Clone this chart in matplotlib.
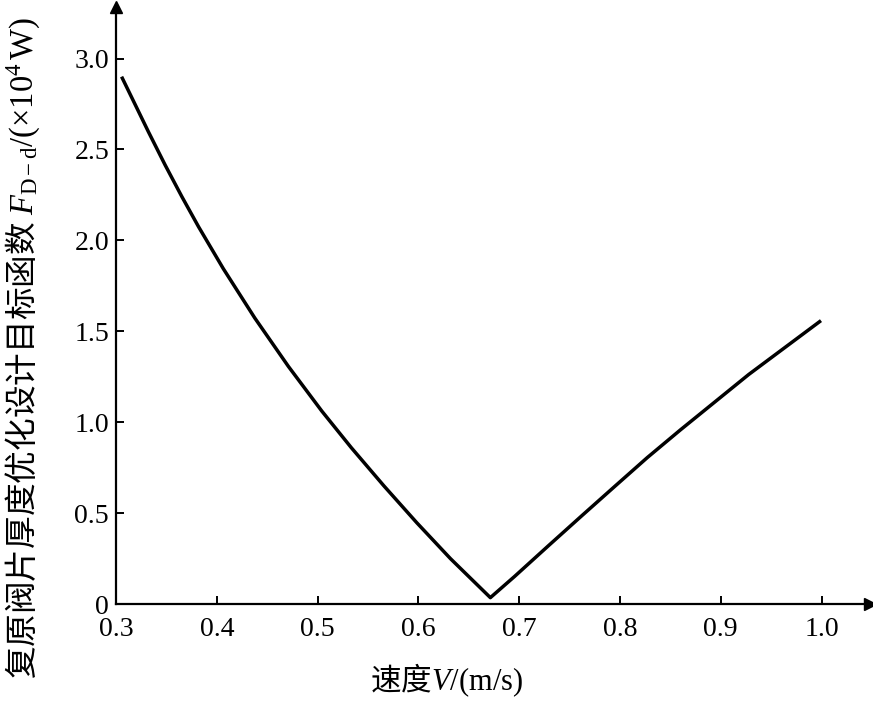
import matplotlib
matplotlib.use("Agg")
import matplotlib.pyplot as plt

plt.rcParams['mathtext.fontset'] = 'custom'
plt.rcParams['mathtext.rm'] = 'Liberation Serif'
plt.rcParams['mathtext.it'] = 'Liberation Serif:italic'
plt.rcParams['mathtext.bf'] = 'Liberation Serif:bold'

# data
velocity = [0.3063, 0.3321, 0.3488, 0.3654, 0.3819, 0.4065, 0.4377, 0.4710,
            0.5042, 0.5334, 0.5659, 0.5984, 0.6319, 0.6714,
            0.6955, 0.7285, 0.762, 0.794, 0.827, 0.860, 0.9276, 0.998]
objective = [2.892, 2.598, 2.414, 2.240, 2.075, 1.844, 1.573, 1.307,
             1.061, 0.860, 0.649, 0.447, 0.249, 0.035,
             0.152, 0.318, 0.485, 0.643, 0.805, 0.958, 1.262, 1.553]
x_ticks = [0.3, 0.4, 0.5, 0.6, 0.7, 0.8, 0.9, 1.0]
x_tick_labels = ['0.3', '0.4', '0.5', '0.6', '0.7', '0.8', '0.9', '1.0']
y_ticks = [0, 0.5, 1.0, 1.5, 2.0, 2.5, 3.0]
y_tick_labels = ['0', '0.5', '1.0', '1.5', '2.0', '2.5', '3.0']

fig = plt.figure(figsize=(8.73, 7.02), dpi=100)
ax = fig.add_axes([116/873, 98/702, (870-116)/873, (604-7)/702])
ax.plot(velocity, objective, color='black', lw=2.5, solid_joinstyle='round')
ax.set_xlim(0.3, 0.3 + (870-116)/1008)
ax.set_ylim(0, (604-7)/181.8)

for s in ['top', 'right']:
    ax.spines[s].set_visible(False)
for s in ['left', 'bottom']:
    ax.spines[s].set_linewidth(1.6)

ax.set_xticks(x_ticks)
ax.set_xticklabels(x_tick_labels)
ax.set_yticks(y_ticks)
ax.set_yticklabels(y_tick_labels)
ax.tick_params(direction='in', length=6, width=1.4, labelsize=20)
ax.tick_params(axis='x', pad=9)
ax.tick_params(axis='y', pad=5)
for lab in ax.get_xticklabels() + ax.get_yticklabels():
    lab.set_family('Liberation Serif')

# axis arrows
ax.plot([0], [1], marker='^', ms=9, color='black', transform=ax.transAxes, clip_on=False)
ax.plot([1], [0], marker='>', ms=9, color='black', transform=ax.transAxes, clip_on=False)

fig.text(447/873, 1 - 680/702, '速度$V/(\\mathrm{m/s})$', ha='center', va='center',
         fontsize=22, family='Noto Sans CJK SC')
fig.text(23/873, 1 - 348/702,
         '复原阀片厚度优化设计目标函数 $F_{\\mathrm{D-d}}/(\\times 10^4\\,\\mathrm{W})$',
         ha='center', va='center', rotation=90, fontsize=23.5, family='Noto Sans CJK SC')

fig.savefig('out.png', dpi=100)
